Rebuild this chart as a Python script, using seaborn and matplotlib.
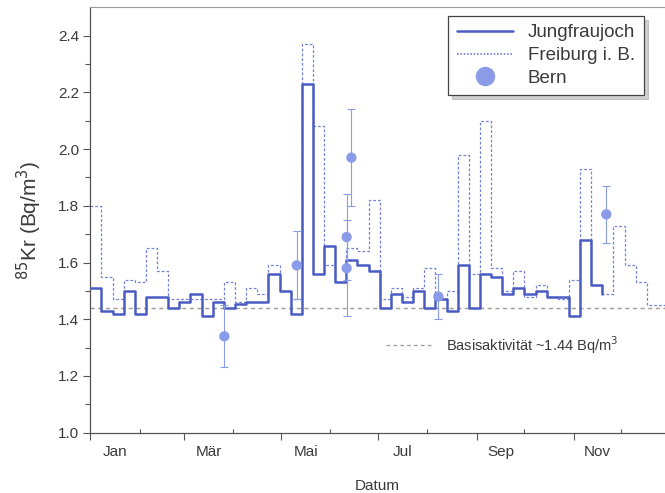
import numpy as np
import pandas as pd
import matplotlib
matplotlib.use("Agg")
import matplotlib.pyplot as plt
from matplotlib.lines import Line2D
import seaborn as sns

# ---------------- data ----------------
week_len = 7  # days per sample
jungfraujoch = [1.51, 1.43, 1.42, 1.50, 1.42, 1.48, 1.48, 1.44, 1.46, 1.49,
                1.41, 1.46, 1.44, 1.455, 1.46, 1.46, 1.56, 1.50, 1.42, 2.23,
                1.56, 1.66, 1.53, 1.61, 1.59, 1.57, 1.44, 1.49, 1.46, 1.50,
                1.44, 1.47, 1.43, 1.59, 1.44, 1.56, 1.55, 1.49, 1.51, 1.49,
                1.50, 1.48, 1.48, 1.41, 1.68, 1.52, 1.49]
freiburg = [1.80, 1.55, 1.47, 1.54, 1.53, 1.65, 1.57, 1.47, 1.47, 1.47,
            1.47, 1.47, 1.53, 1.46, 1.51, 1.49, 1.59, 1.50, 1.47, 2.37,
            2.08, 1.59, 1.53, 1.65, 1.64, 1.82, 1.47, 1.51, 1.48, 1.51,
            1.58, 1.47, 1.50, 1.98, 1.56, 2.10, 1.58, 1.50, 1.57, 1.48,
            1.52, 1.48, 1.47, 1.54, 1.93, 1.52, 1.49, 1.73, 1.59, 1.53,
            1.45, 1.45, 1.45]
bern_day = [84.3, 129.8, 161.2, 161.2, 164.2, 218.9, 324.5]
bern_val = [1.34, 1.59, 1.69, 1.58, 1.97, 1.48, 1.77]
bern_err = [0.11, 0.12, 0.15, 0.17, 0.17, 0.08, 0.10]
baseline = 1.44

month_labels = ["Jan", "Mär", "Mai", "Jul", "Sep", "Nov"]
major_days = [0, 59, 120, 181, 243, 304]
minor_days = [31, 90, 151, 212, 273, 334]
label_days = [15.5, 74.5, 135.5, 196.5, 258, 319]

# ---------------- style ----------------
sns.set_style("ticks")
plt.rcParams["font.family"] = ["Liberation Sans", "DejaVu Sans"]
text_col = "#3a3a3a"
c_jung = "#4a5cc4"
c_frei = "#7282d6"
c_bern = "#8a9ce8"
c_base = "#a09a92"

fig = plt.figure(figsize=(6.65, 4.93), dpi=100)
ax = fig.add_axes([0.1358, 0.1223, 0.8642, 0.8629])

df_j = pd.DataFrame({"day": np.arange(len(jungfraujoch)) * week_len, "val": jungfraujoch})
df_f = pd.DataFrame({"day": np.arange(len(freiburg)) * week_len, "val": freiburg})
df_b = pd.DataFrame({"day": bern_day, "val": bern_val, "err": bern_err})

ax.axhline(baseline, color=c_base, lw=1.0, ls=(0, (3, 2.5)), zorder=1)

sns.lineplot(data=df_f, x="day", y="val", ax=ax, estimator=None, sort=False,
             drawstyle="steps-post", color=c_frei, lw=0.9,
             linestyle=(0, (2.2, 1.6)), zorder=2)
sns.lineplot(data=df_j, x="day", y="val", ax=ax, estimator=None, sort=False,
             drawstyle="steps-post", color=c_jung, lw=1.8, zorder=3)

ax.errorbar(df_b["day"], df_b["val"], yerr=df_b["err"], fmt="none",
            ecolor=c_bern, elinewidth=0.8, capsize=3, capthick=0.8, zorder=4)
sns.scatterplot(data=df_b, x="day", y="val", ax=ax, color=c_bern, s=55,
                edgecolor="none", zorder=5)

# annotation for base activity
ax.plot([186, 215.5], [1.31, 1.31], color=c_base, lw=0.9, ls=(0, (3, 2.5)))
ax.text(223.5, 1.31, "Basisaktivität ~1.44 Bq/m$^3$", fontsize=10.5,
        color=text_col, va="center", ha="left")

# axes
ax.set_xlim(0, 361.4)
ax.set_ylim(1.0, 2.5)
ax.set_yticks(np.arange(1.0, 2.41, 0.2))
ax.set_yticks(np.arange(1.1, 2.5, 0.1), minor=True)
ax.set_yticklabels([f"{v:.1f}" for v in np.arange(1.0, 2.41, 0.2)])
ax.set_xticks(major_days)
ax.set_xticks(minor_days, minor=True)
ax.set_xticklabels([])
for d, lab in zip(label_days, month_labels):
    ax.text(d, -0.03, lab, transform=ax.get_xaxis_transform(), ha="center",
            va="top", fontsize=11, color=text_col)

ax.tick_params(axis="y", which="major", direction="out", length=5, width=0.8,
               colors="#555555", labelcolor=text_col, labelsize=11, pad=3)
ax.tick_params(axis="y", which="minor", direction="out", length=3.5, width=0.8,
               colors="#555555")
ax.tick_params(axis="x", which="major", direction="out", length=5, width=0.8,
               colors="#555555")
ax.tick_params(axis="x", which="minor", direction="in", length=3, width=0.8,
               colors="#555555")

ax.set_xlabel("Datum", fontsize=11, color=text_col, labelpad=25)
ax.set_ylabel("$^{85}$Kr (Bq/m$^3$)", fontsize=15, color=text_col, labelpad=10)

for s in ["left", "bottom"]:
    ax.spines[s].set_color("#555555")
    ax.spines[s].set_linewidth(0.9)
ax.spines["top"].set_visible(True)
ax.spines["top"].set_color("#999999")
ax.spines["top"].set_linewidth(0.8)
ax.spines["right"].set_visible(False)

handles = [
    Line2D([], [], color=c_jung, lw=1.8),
    Line2D([], [], color=c_frei, lw=1.2, ls=(0, (1, 1))),
    Line2D([], [], color=c_bern, marker="o", ls="none", markersize=14,
           markeredgecolor="none"),
]
leg = ax.legend(handles, ["Jungfraujoch", "Freiburg i. B.", "Bern"],
                loc="upper right", bbox_to_anchor=(0.963, 0.98),
                borderaxespad=0, fontsize=13.5, handlelength=3.0,
                frameon=True, fancybox=False, edgecolor="#444444",
                shadow={"ox": 3, "oy": -3, "color": "#999999", "alpha": 0.45},
                labelspacing=0.3, borderpad=0.45, handletextpad=0.8)
for t in leg.get_texts():
    t.set_color(text_col)
leg.get_frame().set_linewidth(0.9)

fig.savefig("out.png", dpi=100, facecolor="white")
